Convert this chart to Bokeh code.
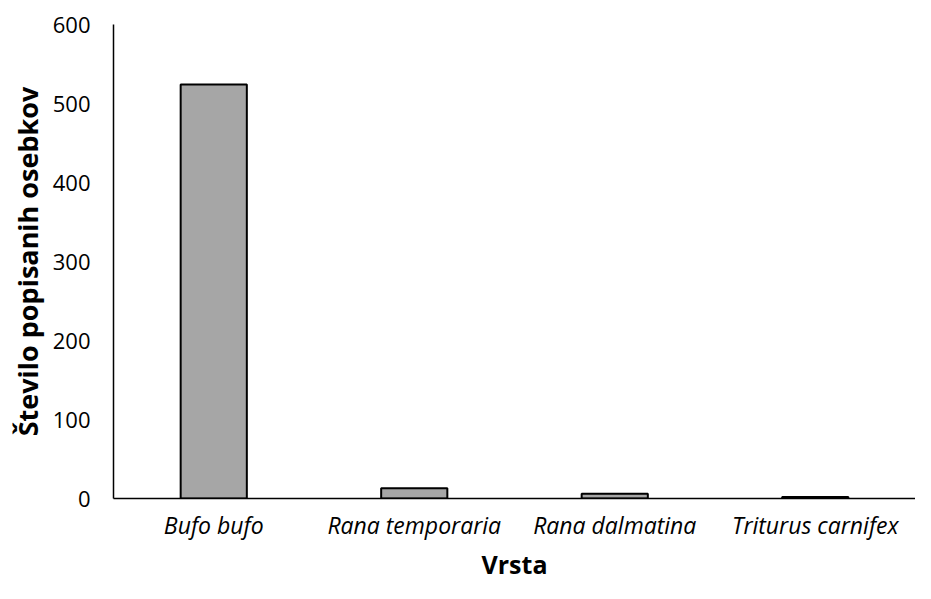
from bokeh.plotting import figure
from bokeh.models import FactorRange, Range1d
from bokeh.embed import file_html
from bokeh.resources import INLINE

species = ["Bufo bufo", "Rana temporaria", "Rana dalmatina", "Triturus carnifex"]
counts = [524, 13, 6, 2]
y_ticks = [0, 100, 200, 300, 400, 500, 600]

p = figure(width=915, height=583, x_range=FactorRange(*species), y_range=Range1d(0, 600),
           output_backend="svg", toolbar_location=None,
           min_border_left=113, min_border_top=24, min_border_bottom=80, min_border_right=0)
p.outline_line_color = None
p.grid.grid_line_color = None

p.vbar(x=species, top=counts, width=0.33, fill_color="#a6a6a6", line_color="black", line_width=2)

font = "Open Sans"
p.yaxis.ticker = y_ticks
p.yaxis.axis_label = "Število popisanih osebkov"
p.xaxis.axis_label = "Vrsta"
for ax in (p.xaxis, p.yaxis):
    ax.major_tick_line_color = None
    ax.minor_tick_line_color = None
    ax.major_tick_out = 0
    ax.major_tick_in = 0
    ax.minor_tick_out = 0
    ax.minor_tick_in = 0
    ax.axis_line_color = "black"
    ax.axis_line_width = 1.5
    ax.major_label_text_font = font
    ax.major_label_text_color = "#000000"
    ax.axis_label_text_font = font
    ax.axis_label_text_font_style = "bold"
    ax.axis_label_text_color = "#000000"
p.xaxis.major_label_text_font_style = "italic"
p.xaxis.major_label_text_font_size = "23px"
p.yaxis.major_label_text_font_size = "22px"
p.xaxis.axis_label_text_font_size = "25px"
p.yaxis.axis_label_text_font_size = "27px"
p.yaxis.major_label_standoff = 23
p.xaxis.major_label_standoff = 10
p.yaxis.axis_label_standoff = 4
p.xaxis.axis_label_standoff = 3

open("out.html", "w").write(file_html(p, INLINE))
